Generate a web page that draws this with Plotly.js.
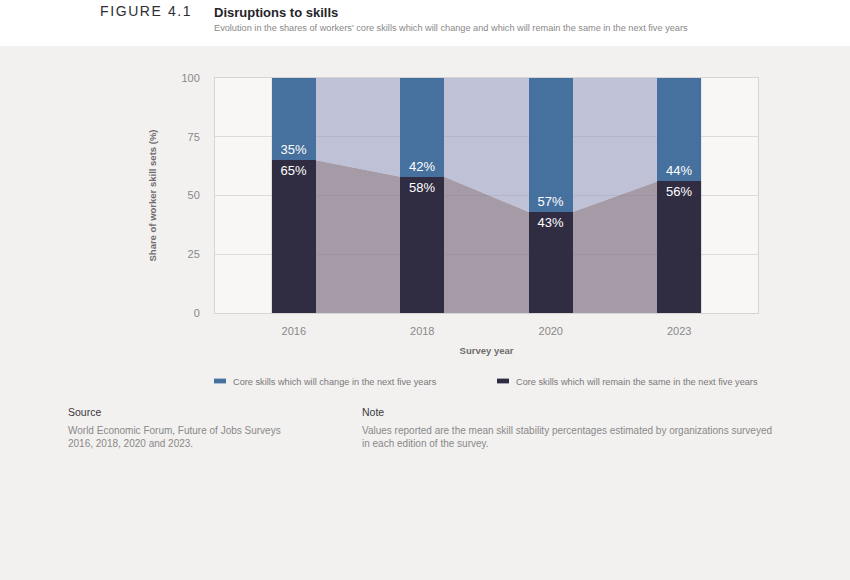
<!DOCTYPE html>
<html>
<head>
<meta charset="utf-8">
<script src="https://cdn.plot.ly/plotly-3.0.1.min.js"></script>
<style>
  html, body { margin: 0; padding: 0; background: #f2f1f0; }
  #chart { width: 850px; height: 580px; }
</style>
</head>
<body>
<div id="chart"></div>
<script>
// survey editions and skill stability shares (%)
const years = ["2016", "2018", "2020", "2023"]
const changeShare = [35, 42, 57, 44]
const remainShare = [65, 58, 43, 56]
const seriesNames = [
    "Core skills which will change in the next five years",
    "Core skills which will remain the same in the next five years"
]

const W = 850, H = 580
const M = { l: 215, r: 92, t: 78, b: 267 }
const plotW = W - M.l - M.r, plotH = H - M.t - M.b
// page pixel -> paper coords (relative to plot area)
const px2x = px => (px - M.l) / plotW
const px2y = py => (H - M.b - py) / plotH

const barWidth = 0.343
const xRange = [-0.613, years.length - 1 + 0.613]
const idx = years.map((_, i) => i)

// area between the bars: runs from each bar's edge to the next bar's edge
const edgeX = idx.flatMap(i => [i - barWidth / 2, i + barWidth / 2])
const edgeRemain = remainShare.flatMap(v => [v, v])
const edgeChange = changeShare.flatMap(v => [v, v])

const labelFont = { family: "Liberation Sans, Arial, sans-serif", size: 13, color: "#ffffff" }

const data = [
    {
        type: "scatter", mode: "none", x: edgeX, y: edgeRemain,
        stackgroup: "area", fillcolor: "rgba(129,115,132,0.7)",
        showlegend: false, hoverinfo: "skip"
    },
    {
        type: "scatter", mode: "none", x: edgeX, y: edgeChange,
        stackgroup: "area", fillcolor: "rgba(153,157,193,0.6)",
        showlegend: false, hoverinfo: "skip"
    },
    {
        type: "bar", name: seriesNames[1], x: idx, y: remainShare,
        xaxis: "x2", yaxis: "y2", width: barWidth,
        marker: { color: "#302d42" }, legendrank: 2,
        text: remainShare.map(v => v + "%"), textposition: "inside",
        insidetextanchor: "end", insidetextfont: labelFont,
        textangle: 0, constraintext: "none"
    },
    {
        type: "bar", name: seriesNames[0], x: idx, y: changeShare,
        xaxis: "x2", yaxis: "y2", width: barWidth,
        marker: { color: "#46709e" }, legendrank: 1,
        text: changeShare.map(v => v + "%"), textposition: "inside",
        insidetextanchor: "start", insidetextfont: labelFont,
        textangle: 0, constraintext: "none"
    }
]

const gray = "#8a8888"
const baseFont = "Liberation Sans, Arial, sans-serif"

const layout = {
    width: W, height: H,
    margin: M,
    barmode: "stack",
    paper_bgcolor: "#f2f1f0",
    plot_bgcolor: "#f8f7f6",
    font: { family: baseFont, size: 11, color: gray },
    showlegend: true,
    legend: {
        orientation: "h",
        traceorder: "normal",
        x: px2x(193), xanchor: "left",
        y: px2y(381), yanchor: "middle",
        font: { size: 9.2, color: "#7a7878" },
        entrywidth: 238, entrywidthmode: "pixels",
        itemwidth: 30,
        bgcolor: "rgba(0,0,0,0)"
    },
    xaxis: {
        range: xRange,
        tickvals: idx, ticktext: years,
        showgrid: false, zeroline: false,
        showline: true, mirror: true, linecolor: "#d6d4d4", linewidth: 1,
        ticks: "outside", ticklen: 8, tickcolor: "rgba(0,0,0,0)",
        tickfont: { size: 11, color: gray },
        title: { text: "<b>Survey year</b>", font: { size: 9.5, color: "#6f6d6d" }, standoff: 11 }
    },
    yaxis: {
        range: [0, 100],
        tickvals: [0, 25, 50, 75, 100],
        showgrid: true, gridcolor: "#dcdada", gridwidth: 1,
        zeroline: false,
        showline: true, mirror: true, linecolor: "#d6d4d4", linewidth: 1,
        ticks: "outside", ticklen: 12, tickcolor: "rgba(0,0,0,0)",
        tickfont: { size: 11, color: gray },
        title: { text: "<b>Share of worker skill sets (%)</b>", font: { size: 9.5, color: "#6f6d6d" }, standoff: 23 }
    },
    xaxis2: { overlaying: "x", range: xRange, visible: false },
    yaxis2: { overlaying: "y", range: [0, 100], visible: false },
    shapes: [
        {
            type: "rect", xref: "paper", yref: "paper", layer: "below",
            x0: px2x(0), x1: px2x(W), y0: px2y(0), y1: px2y(46),
            fillcolor: "#ffffff", line: { width: 0 }
        }
    ],
    annotations: [
        {
            text: "FIGURE 4.1", xref: "paper", yref: "paper",
            x: px2x(186), y: px2y(11), xanchor: "right", yanchor: "middle",
            showarrow: false, font: { family: baseFont, size: 14, color: "#2f2d33" }
        },
        {
            text: "<b>Disruptions to skills</b>", xref: "paper", yref: "paper",
            x: px2x(212), y: px2y(12), xanchor: "left", yanchor: "middle",
            showarrow: false, font: { family: baseFont, size: 13, color: "#26242a" }
        },
        {
            text: "Evolution in the shares of workers' core skills which will change and which will remain the same in the next five years",
            xref: "paper", yref: "paper",
            x: px2x(212), y: px2y(28), xanchor: "left", yanchor: "middle",
            showarrow: false, font: { family: baseFont, size: 9.2, color: "#8a8888" }
        },
        {
            text: "Source", xref: "paper", yref: "paper",
            x: px2x(66), y: px2y(412), xanchor: "left", yanchor: "middle",
            showarrow: false, font: { family: baseFont, size: 10.5, color: "#3a383c" }
        },
        {
            text: "World Economic Forum, Future of Jobs Surveys<br>2016, 2018, 2020 and 2023.",
            xref: "paper", yref: "paper", align: "left",
            x: px2x(66), y: px2y(423), xanchor: "left", yanchor: "top",
            showarrow: false, font: { family: baseFont, size: 10, color: "#8a8888" }
        },
        {
            text: "Note", xref: "paper", yref: "paper",
            x: px2x(360), y: px2y(412), xanchor: "left", yanchor: "middle",
            showarrow: false, font: { family: baseFont, size: 10.5, color: "#3a383c" }
        },
        {
            text: "Values reported are the mean skill stability percentages estimated by organizations surveyed<br>in each edition of the survey.",
            xref: "paper", yref: "paper", align: "left",
            x: px2x(360), y: px2y(423), xanchor: "left", yanchor: "top",
            showarrow: false, font: { family: baseFont, size: 10, color: "#8a8888" }
        }
    ]
}

const config = { staticPlot: true, displayModeBar: false }

Plotly.newPlot("chart", data, layout, config).then(gd => {
    // letter spaced figure number, as in the original header
    gd.querySelectorAll(".annotation-text").forEach(t => {
        if (t.textContent === "FIGURE 4.1") t.style.letterSpacing = "1.6px"
    })
    // flat legend swatches sitting close to their labels
    gd.querySelectorAll(".legendpoints path").forEach(p => {
        p.style.transform = "translate(27px,0px) scale(1,0.4)"
    })
    // the second label runs past the fixed entry width, keep it whole
    gd.querySelectorAll(".legend .scrollbox").forEach(s => s.removeAttribute("clip-path"))
})
</script>
</body>
</html>
